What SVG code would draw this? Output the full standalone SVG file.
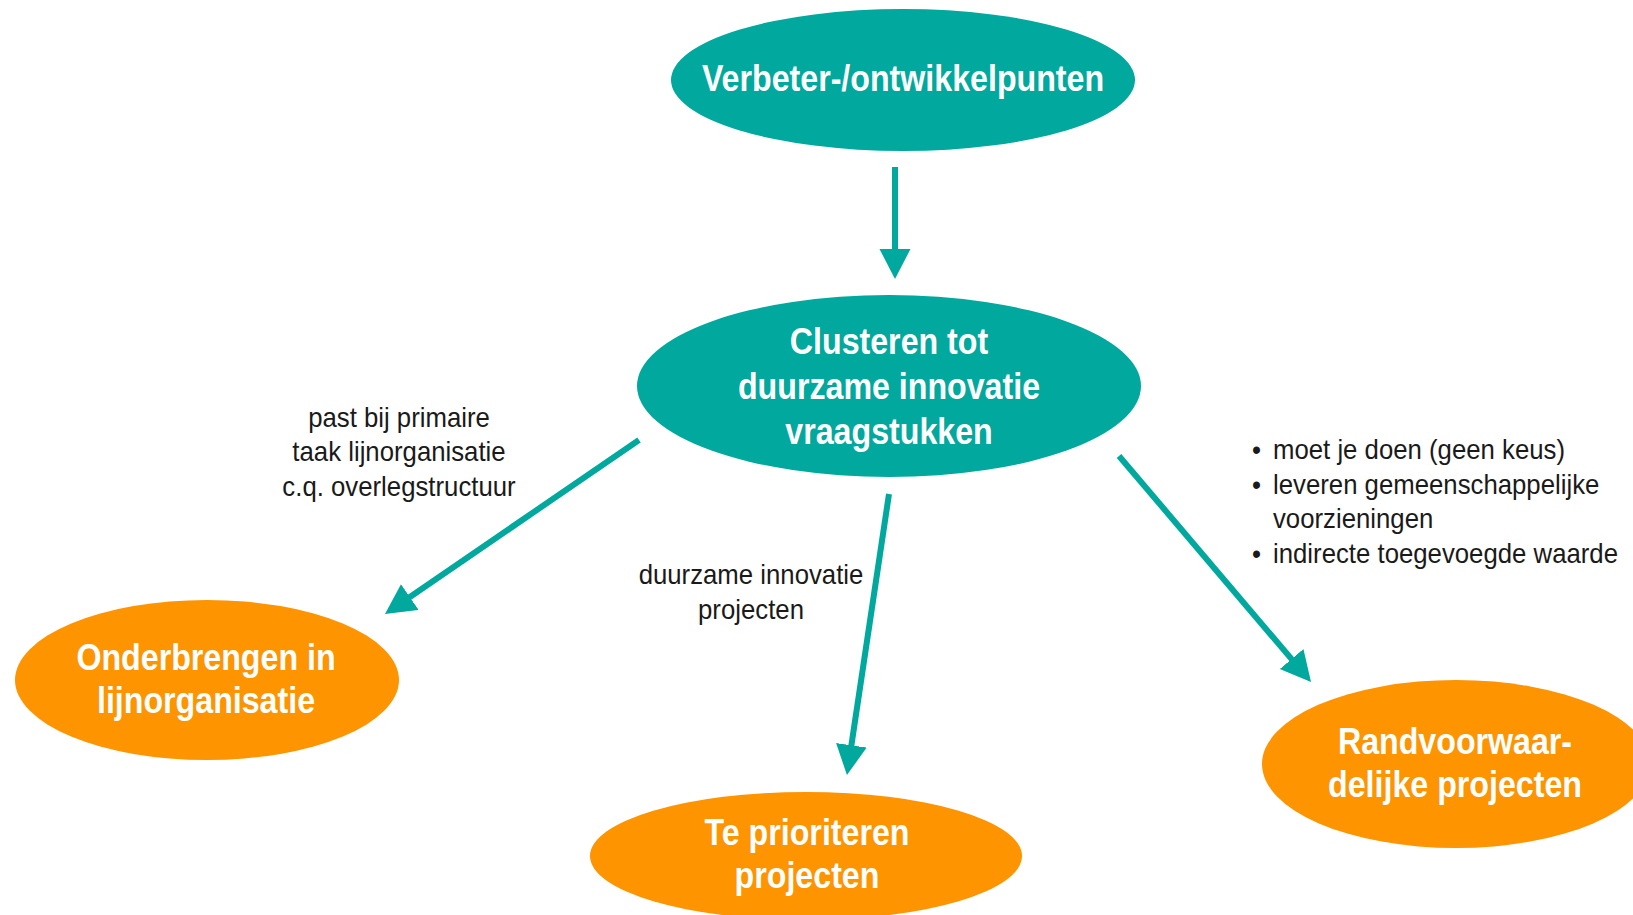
<svg xmlns="http://www.w3.org/2000/svg" width="1633" height="915" viewBox="0 0 1633 915">
  <style>
    .teal { fill: #00A89D; }
    .orange { fill: #FD9400; }
    .title { font-family: "Liberation Sans", Arial, sans-serif; font-weight: bold; font-size: 37px; fill: #ffffff; text-anchor: middle; }
    .label { font-family: "Liberation Sans", Arial, sans-serif; font-size: 28px; fill: #1a1a1a; }
    .mid { text-anchor: middle; }
    .conn { stroke: #00A89D; stroke-width: 6; fill: none; marker-end: url(#arrow); }
  </style>
  <defs>
    <marker id="arrow" markerUnits="userSpaceOnUse" markerWidth="32" markerHeight="32" refX="2" refY="15.5" orient="auto">
      <path d="M0,0 L30,15.5 L0,31 z" fill="#00A89D"/>
    </marker>
  </defs>
  <rect width="1633" height="915" fill="#ffffff"/>

  <g id="connectors">
    <line class="conn" x1="895" y1="167" x2="895" y2="251"/>
    <line class="conn" x1="639" y1="440" x2="408.1" y2="598.2"/>
    <line class="conn" x1="889" y1="494" x2="851.1" y2="747.3"/>
    <line class="conn" x1="1119" y1="456" x2="1292.9" y2="660.6"/>
  </g>

  <g id="node-verbeter">
    <ellipse class="teal" cx="903" cy="80" rx="232" ry="71"/>
    <text class="title" transform="translate(903 91) scale(0.87 1)">Verbeter-/ontwikkelpunten</text>
  </g>

  <g id="node-clusteren">
    <ellipse class="teal" cx="889" cy="386" rx="252" ry="91"/>
    <text class="title" transform="translate(889 354) scale(0.87 1)">Clusteren tot</text>
    <text class="title" transform="translate(889 399) scale(0.87 1)">duurzame innovatie</text>
    <text class="title" transform="translate(889 444) scale(0.87 1)">vraagstukken</text>
  </g>

  <g id="node-onderbrengen">
    <ellipse class="orange" cx="207" cy="680" rx="192" ry="80"/>
    <text class="title" transform="translate(206 670) scale(0.87 1)">Onderbrengen in</text>
    <text class="title" transform="translate(206 713) scale(0.87 1)">lijnorganisatie</text>
  </g>

  <g id="node-prioriteren">
    <ellipse class="orange" cx="806" cy="856" rx="216" ry="64"/>
    <text class="title" transform="translate(807 845) scale(0.87 1)">Te prioriteren</text>
    <text class="title" transform="translate(807 888) scale(0.87 1)">projecten</text>
  </g>

  <g id="node-randvoorwaardelijk">
    <ellipse class="orange" cx="1456" cy="764" rx="194" ry="84"/>
    <text class="title" transform="translate(1455 754) scale(0.87 1)">Randvoorwaar-</text>
    <text class="title" transform="translate(1455 797) scale(0.87 1)">delijke projecten</text>
  </g>

  <g id="labels">
    <text class="label mid" transform="translate(399 427) scale(0.92 1)">past bij primaire</text>
    <text class="label mid" transform="translate(399 461) scale(0.92 1)">taak lijnorganisatie</text>
    <text class="label mid" transform="translate(399 496) scale(0.92 1)">c.q. overlegstructuur</text>

    <text class="label mid" transform="translate(751 584) scale(0.92 1)">duurzame innovatie</text>
    <text class="label mid" transform="translate(751 619) scale(0.92 1)">projecten</text>

    <text class="label" transform="translate(1252 459) scale(0.92 1)">•</text>
    <text class="label" transform="translate(1273 459) scale(0.92 1)">moet je doen (geen keus)</text>
    <text class="label" transform="translate(1252 494) scale(0.92 1)">•</text>
    <text class="label" transform="translate(1273 494) scale(0.92 1)">leveren gemeenschappelijke</text>
    <text class="label" transform="translate(1273 528) scale(0.92 1)">voorzieningen</text>
    <text class="label" transform="translate(1252 563) scale(0.92 1)">•</text>
    <text class="label" transform="translate(1273 563) scale(0.92 1)">indirecte toegevoegde waarde</text>
  </g>
</svg>
